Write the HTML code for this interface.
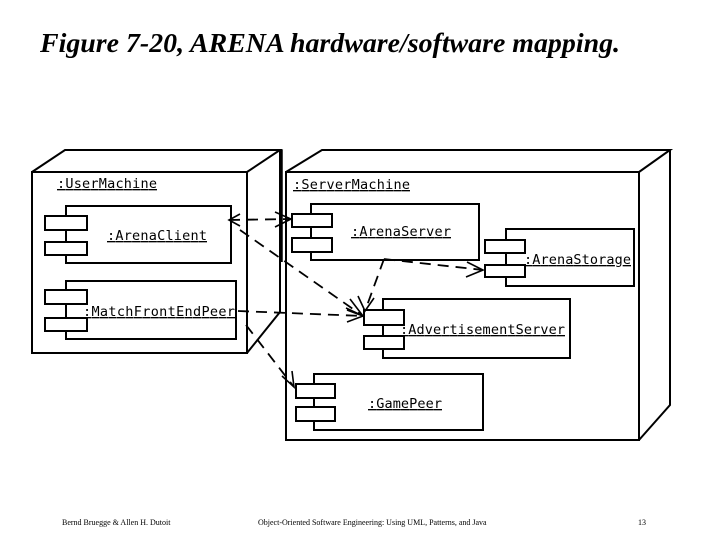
<!DOCTYPE html>
<html><head><meta charset="utf-8"><style>
html,body{margin:0;padding:0;background:#fff;}
svg{display:block}
</style></head><body>
<svg width="720" height="540" viewBox="0 0 720 540" xmlns="http://www.w3.org/2000/svg">
<text x="40" y="52" font-family="Liberation Serif, serif" font-weight="bold" font-style="italic" font-size="27" textLength="580" lengthAdjust="spacingAndGlyphs">Figure 7-20, ARENA hardware/software mapping.</text>
<g fill="none" stroke="#000" stroke-width="2">
<rect x="32" y="172" width="215" height="181" fill="#fff"/>
<polyline points="32,172 65,150 280,150 247,172"/>
<polyline points="280,150 280,312 247,353"/>
<line x1="281" y1="150" x2="281" y2="262" stroke-width="3.5"/>
<rect x="286" y="172" width="353" height="268"/>
<polyline points="286,172 322,150 670,150 639,172"/>
<polyline points="670,150 670,405 639,440"/>
<rect x="66" y="206" width="165" height="57"/>
<rect x="45" y="216" width="42" height="14" fill="#fff"/><rect x="45" y="242" width="42" height="13" fill="#fff"/>
<rect x="66" y="281" width="170" height="58"/>
<rect x="45" y="290" width="42" height="14" fill="#fff"/><rect x="45" y="318" width="42" height="13" fill="#fff"/>
<rect x="311" y="204" width="168" height="56"/>
<rect x="292" y="214" width="40" height="13" fill="#fff"/><rect x="292" y="238" width="40" height="14" fill="#fff"/>
<rect x="506" y="229" width="128" height="57"/>
<rect x="485" y="240" width="40" height="13" fill="#fff"/><rect x="485" y="265" width="40" height="12" fill="#fff"/>
<rect x="383" y="299" width="187" height="59"/>
<rect x="364" y="310" width="40" height="15" fill="#fff"/><rect x="364" y="336" width="40" height="13" fill="#fff"/>
<rect x="314" y="374" width="169" height="56"/>
<rect x="296" y="384" width="39" height="14" fill="#fff"/><rect x="296" y="407" width="39" height="14" fill="#fff"/>
</g>
<g font-family="DejaVu Sans Mono, monospace" font-size="13.5" fill="#000" text-decoration="underline" lengthAdjust="spacingAndGlyphs">
<text x="57" y="188" textLength="100">:UserMachine</text>
<text x="293" y="189" textLength="117">:ServerMachine</text>
<text x="107" y="240" textLength="100">:ArenaClient</text>
<text x="83" y="316" textLength="152">:MatchFrontEndPeer</text>
<text x="351" y="236" textLength="100">:ArenaServer</text>
<text x="524" y="264" textLength="107">:ArenaStorage</text>
<text x="400" y="334" textLength="165">:AdvertisementServer</text>
<text x="368" y="408" textLength="74">:GamePeer</text>
</g>
<g fill="none" stroke="#000" stroke-width="1.8" stroke-dasharray="11,7">
<line x1="229" y1="220" x2="291" y2="219"/>
<line x1="240" y1="230" x2="363" y2="316"/>
<line x1="238" y1="311" x2="363" y2="316"/>
<line x1="246" y1="325" x2="294" y2="387"/>
<line x1="384" y1="259" x2="365" y2="311"/>
<line x1="384" y1="259" x2="483" y2="270"/>
</g>
<g fill="none" stroke="#000" stroke-width="1.6">
<polyline points="275,212 291,219 275,227"/>
<polyline points="240,214 229,220 240,226"/>
<polyline points="346,308 363,316 350,299"/>
<polyline points="347,310 363,316 347,322"/>
<polyline points="282,376 294,387 292,371"/>
<polyline points="358,296 365,311 374,298"/>
<polyline points="467,262 483,270 466,277"/>
</g>
<g font-family="Liberation Serif, serif" font-size="8" fill="#000">
<text x="62" y="525">Bernd Bruegge &amp; Allen H. Dutoit</text>
<text x="258" y="525">Object-Oriented Software Engineering: Using UML, Patterns, and Java</text>
<text x="638" y="525">13</text>
</g>
</svg>
</body></html>
